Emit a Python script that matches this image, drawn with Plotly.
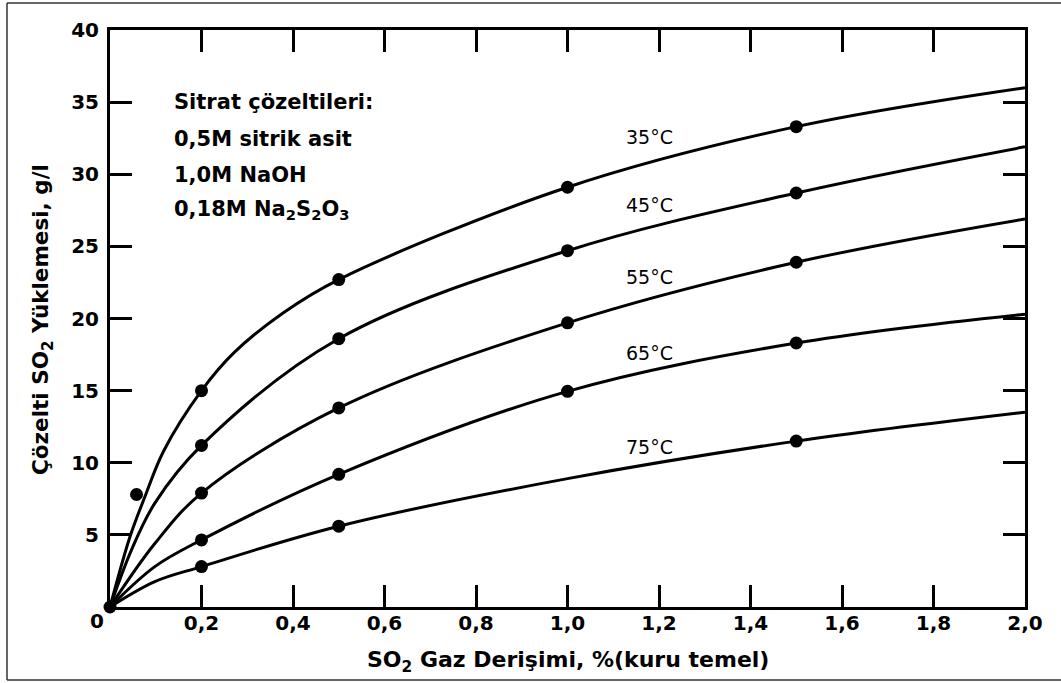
import plotly.graph_objects as go

# ---- data ----
pt_x = [0.2, 0.5, 1.0, 1.5]
pts_35 = [15.0, 22.7, 29.1, 33.3]
pts_45 = [11.2, 18.6, 24.7, 28.7]
pts_55 = [7.9, 13.8, 19.7, 23.9]
pts_65 = [4.65, 9.2, 14.95, 18.3]
pt_x_75 = [0.2, 0.5, 1.5]
pts_75 = [2.8, 5.6, 11.5]
extra_x = [0.0, 0.058]
extra_y = [0.0, 7.8]

# curve traces
c35_x = [0, 0.044, 0.0765, 0.117, 0.2, 0.27, 0.379, 0.5, 1.0, 1.5, 2.0]
c35_y = [0, 4.9, 7.66, 10.8, 15.0, 17.6, 20.4, 22.7, 29.1, 33.3, 36.0]
c45_x = [0, 0.047, 0.098, 0.2, 0.5, 1.0, 1.5, 2.0]
c45_y = [0, 3.96, 7.2, 11.2, 18.6, 24.7, 28.7, 31.9]
c55_x = [0, 0.098, 0.2, 0.5, 1.0, 1.5, 2.0]
c55_y = [0, 4.4, 7.9, 13.8, 19.7, 23.9, 26.9]
c65_x = [0, 0.098, 0.2, 0.5, 1.0, 1.5, 2.0]
c65_y = [0, 2.8, 4.65, 9.2, 14.95, 18.3, 20.3]
c75_x = [0, 0.098, 0.2, 0.5, 1.0, 1.5, 2.0]
c75_y = [0, 1.76, 2.8, 5.6, 8.9, 11.5, 13.5]

temp_labels = ["35°C", "45°C", "55°C", "65°C", "75°C"]
temp_label_y = [32.6, 27.9, 22.85, 17.6, 11.1]
temp_label_x = 1.18

x_ticks = [0.2, 0.4, 0.6, 0.8, 1.0, 1.2, 1.4, 1.6, 1.8, 2.0]
x_ticktext = ["0,2", "0,4", "0,6", "0,8", "1,0", "1,2", "1,4", "1,6", "1,8", "2,0"]
y_ticks = [5, 10, 15, 20, 25, 30, 35, 40]
y_ticktext = ["5", "10", "15", "20", "25", "30", "35", "40"]

FONT = "DejaVu Sans, Liberation Sans, Arial, sans-serif"
W, H = 1061, 683
L, R, T, B = 110, 36, 30, 76
PW, PH = W - L - R, H - T - B


def px(xp):
    return (xp - L) / PW


def py(yp):
    return (H - B - yp) / PH


fig = go.Figure()
for cx, cy in [(c35_x, c35_y), (c45_x, c45_y), (c55_x, c55_y), (c65_x, c65_y), (c75_x, c75_y)]:
    fig.add_trace(go.Scatter(x=cx, y=cy, mode="lines",
                             line=dict(color="black", width=3, shape="spline", smoothing=1.0),
                             hoverinfo="skip", showlegend=False))

for xs, ys in [(pt_x, pts_35), (pt_x, pts_45), (pt_x, pts_55), (pt_x, pts_65),
               (pt_x_75, pts_75), (extra_x, extra_y)]:
    fig.add_trace(go.Scatter(x=xs, y=ys, mode="markers",
                             marker=dict(color="black", size=13),
                             showlegend=False, cliponaxis=False))

annotations = []
for t, yv in zip(temp_labels, temp_label_y):
    annotations.append(dict(x=temp_label_x, y=yv, xref="x", yref="y", text=t,
                            showarrow=False, font=dict(family=FONT, size=19, color="black"),
                            xanchor="center", yanchor="middle"))

info_lines = ["Sitrat çözeltileri:", "0,5M sitrik asit", "1,0M NaOH",
              "0,18M Na<sub>2</sub>S<sub>2</sub>O<sub>3</sub>"]
info_y = [102, 139, 175, 210]
for t, yp in zip(info_lines, info_y):
    annotations.append(dict(x=px(172), y=py(yp), xref="paper", yref="paper", text=t,
                            showarrow=False, xanchor="left", yanchor="middle",
                            font=dict(family=FONT, size=21, color="black", weight="bold")))

# zero label at the corner
annotations.append(dict(x=px(97), y=py(621), xref="paper", yref="paper", text="0",
                        showarrow=False, xanchor="center", yanchor="middle",
                        font=dict(family=FONT, size=20, color="black", weight="bold")))
# axis titles
annotations.append(dict(x=px(568), y=py(661), xref="paper", yref="paper",
                        text="SO<sub>2</sub> Gaz Derişimi, %(kuru temel)",
                        showarrow=False, xanchor="center", yanchor="middle",
                        font=dict(family=FONT, size=22, color="black", weight="bold")))
annotations.append(dict(x=px(42), y=py(320), xref="paper", yref="paper",
                        text="Çözelti SO<sub>2</sub> Yüklemesi, g/l", textangle=-90,
                        showarrow=False, xanchor="center", yanchor="middle",
                        font=dict(family=FONT, size=21.5, color="black", weight="bold")))

shapes = [
    dict(type="line", xref="paper", yref="paper", x0=px(7), x1=px(7), y0=py(3), y1=py(680),
         line=dict(color="#333", width=1.5)),
    dict(type="line", xref="paper", yref="paper", x0=px(7), x1=px(1061), y0=py(3), y1=py(3),
         line=dict(color="#333", width=1.5)),
    dict(type="line", xref="paper", yref="paper", x0=px(7), x1=px(1061), y0=py(680), y1=py(680),
         line=dict(color="#333", width=1.5)),
]

axis_common = dict(showline=True, linecolor="black", linewidth=3, mirror="ticks",
                   ticks="inside", ticklen=22, tickwidth=2.5, tickcolor="black",
                   showgrid=False, zeroline=False,
                   tickfont=dict(family=FONT, size=20, color="black", weight="bold"))

fig.update_layout(
    width=W, height=H, autosize=False,
    margin=dict(l=L, r=R, t=T, b=B, pad=0),
    paper_bgcolor="white", plot_bgcolor="white",
    xaxis=dict(range=[0, 2.0], tickvals=x_ticks, ticktext=x_ticktext,
               ticklabelstandoff=-4, **axis_common),
    yaxis=dict(range=[0, 40], tickvals=y_ticks, ticktext=y_ticktext,
               ticklabelstandoff=4, **axis_common),
    annotations=annotations, shapes=shapes, showlegend=False,
)

fig.write_html("out.html", config={"displayModeBar": False},
               post_script="document.body.style.margin='0';")
